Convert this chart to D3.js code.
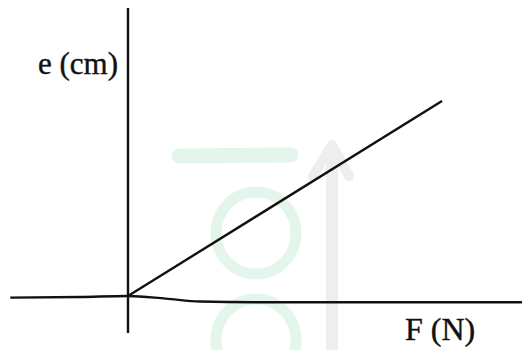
<!DOCTYPE html>
<html>
<head>
<meta charset="utf-8">
<script src="https://cdn.jsdelivr.net/npm/d3@7"></script>
<style>
  body { margin: 0; background: #fff; }
  svg { display: block; }
</style>
</head>
<body>
<div id="chart"></div>
<script>
// force (N) and extension (cm) for the straight line
const force = [0, 10];
const extension = [0, 6];
// scanned baseline drifts a little below zero to the right of the origin
const baseF = [-3.75, -1.5, 0, 1.2, 2.3, 4, 12.6];
const baseE = [-0.05, -0.03, 0, -0.08, -0.17, -0.19, -0.19];
const axisLabels = ["e (cm)", "F (N)"];

function drawGraph() {
  const width = 522, height = 350;

  const svg = d3.select("#chart")
    .append("svg")
    .attr("width", width)
    .attr("height", height);

  const x = d3.scaleLinear().domain([0, 10]).range([128, 442]);
  const y = d3.scaleLinear().domain([0, 6]).range([296, 101]);

  // faint watermark behind the graph
  const wm = svg.append("g");
  wm.append("line")
    .attr("x1", 179).attr("y1", 156).attr("x2", 291).attr("y2", 155)
    .attr("stroke", "#e4f5ec").attr("stroke-width", 15).attr("stroke-linecap", "round");
  wm.append("ellipse")
    .attr("cx", 256).attr("cy", 233).attr("rx", 40).attr("ry", 41)
    .attr("fill", "none").attr("stroke", "#e4f5ec").attr("stroke-width", 11);
  wm.append("ellipse")
    .attr("cx", 256).attr("cy", 340).attr("rx", 40).attr("ry", 41)
    .attr("fill", "none").attr("stroke", "#e4f5ec").attr("stroke-width", 11);
  wm.append("line")
    .attr("x1", 332).attr("y1", 146).attr("x2", 332).attr("y2", 350)
    .attr("stroke", "#eeeeee").attr("stroke-width", 12);
  wm.append("path")
    .attr("d", "M313,176 L332,145 L349,176")
    .attr("fill", "none").attr("stroke", "#eeeeee").attr("stroke-width", 10)
    .attr("stroke-linecap", "round").attr("stroke-linejoin", "round");

  // axes
  svg.append("line")
    .attr("x1", x(0)).attr("x2", x(0))
    .attr("y1", y(8.86)).attr("y2", y(-1.14))
    .attr("stroke", "#111").attr("stroke-width", 2.4);

  const base = d3.line()
    .x(d => x(d[0]))
    .y(d => y(d[1]))
    .curve(d3.curveMonotoneX);

  svg.append("path")
    .datum(d3.zip(baseF, baseE))
    .attr("d", base)
    .attr("fill", "none")
    .attr("stroke", "#111")
    .attr("stroke-width", 2.4);

  // the e-F line
  svg.append("path")
    .datum(d3.zip(force, extension))
    .attr("d", base.curve(d3.curveLinear))
    .attr("fill", "none")
    .attr("stroke", "#111")
    .attr("stroke-width", 2.4);

  svg.append("text")
    .attr("x", 38).attr("y", 74)
    .attr("font-family", "Liberation Serif, Times New Roman, serif")
    .attr("font-size", 31)
    .attr("fill", "#111")
    .attr("stroke", "#111").attr("stroke-width", 0.4)
    .text(axisLabels[0]);

  svg.append("text")
    .attr("x", 405).attr("y", 340)
    .attr("font-family", "Liberation Serif, Times New Roman, serif")
    .attr("font-size", 32)
    .attr("fill", "#111")
    .attr("stroke", "#111").attr("stroke-width", 0.4)
    .text(axisLabels[1]);
}
drawGraph();
</script>
</body>
</html>
